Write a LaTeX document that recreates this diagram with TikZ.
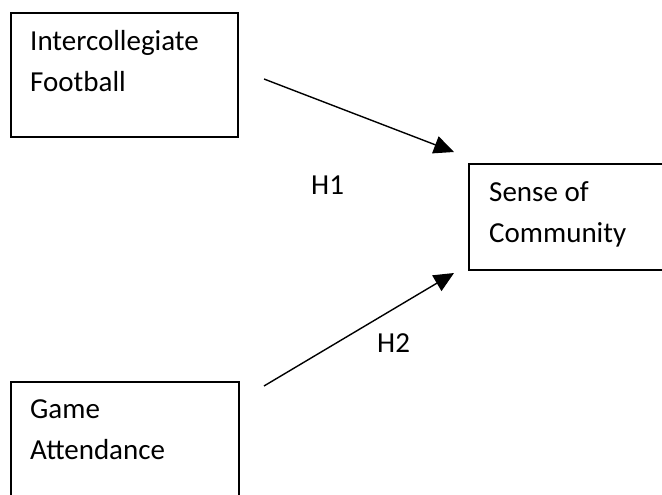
\documentclass[tikz,border=0pt]{standalone}
\usepackage{fontspec}
\setmainfont{Carlito}
\usetikzlibrary{arrows.meta}
\begin{document}
\begin{tikzpicture}[x=1pt,y=-1pt,
  box/.style={draw=black, line width=2pt, inner sep=0pt, anchor=north west},
  txt/.style={font=\fontsize{29}{41}\selectfont, inner sep=0pt, align=left, anchor=base west},
  hyp/.style={font=\fontsize{29}{35}\selectfont, inner sep=0pt, anchor=base west},
  link/.style={line width=1.4pt, -{Triangle[length=20pt,width=18pt]}}]
\clip (0,0) rectangle (662,495);
\fill[white] (0,0) rectangle (662,495);
\node[box, minimum width=227pt, minimum height=124pt] (b1) at (10,12) {};
\node[box, minimum width=212pt, minimum height=106pt] (b2) at (468,163) {};
\node[box, minimum width=228pt, minimum height=140pt] (b3) at (10,381) {};
\node[txt] (t1) at (30,92) {Intercollegiate\\Football};
\node[txt] (t2) at (489,242) {Sense of\\Community};
\node[txt] (t3) at (30,459) {Game\\Attendance};
\node[hyp] (h1) at (311,194) {H1};
\node[hyp] (h2) at (377,352) {H2};
\coordinate (a1s) at (264,79);
\coordinate (a1e) at (454,152);
\coordinate (a2s) at (264,386);
\coordinate (a2e) at (454,273);
\draw[link] (a1s) -- (a1e);
\draw[link] (a2s) -- (a2e);
\end{tikzpicture}
\end{document}
